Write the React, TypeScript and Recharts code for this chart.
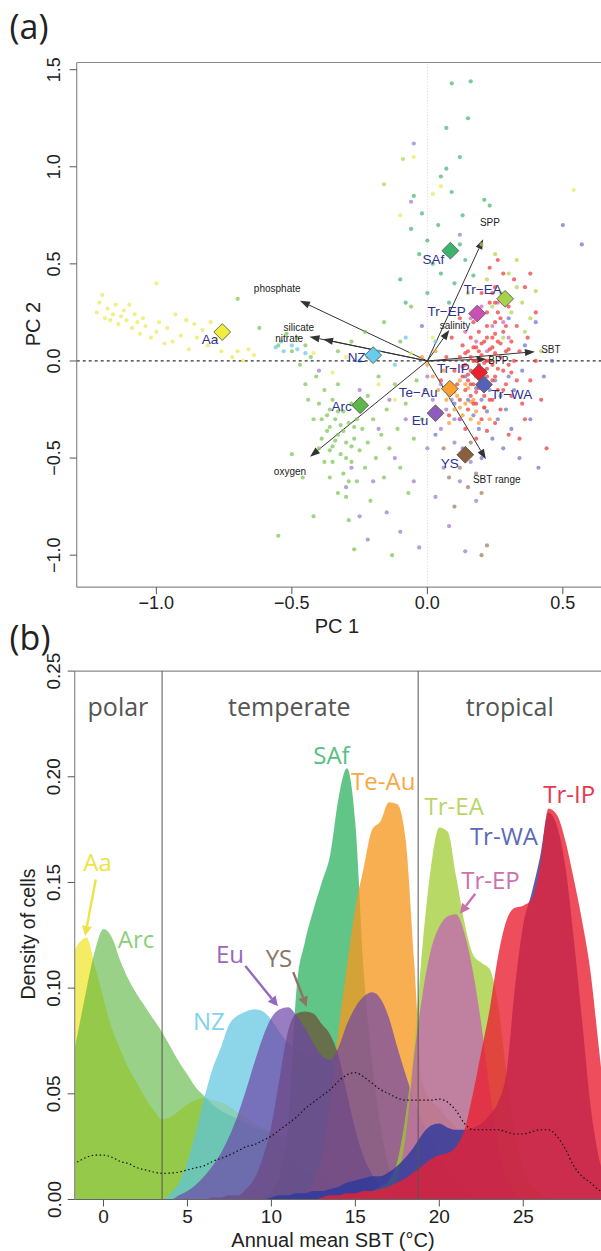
import React from "react";
import {
  ScatterChart,
  ComposedChart,
  Scatter,
  Area,
  Line,
  XAxis,
  YAxis,
  ReferenceLine,
  ReferenceDot,
} from "recharts";

const SANS = "'Liberation Sans', Arial, Helvetica, sans-serif";
const MYRIAD = "'Open Sans', 'Noto Sans', sans-serif";

// ---------------- (a) PCA biplot ----------------
const pcXTicks = [-1, -0.5, 0, 0.5];
const pcYTicks = [-1, -0.5, 0, 0.5, 1, 1.5];

// cells, PC1 / PC2 scores per region
const aaPts = [
  [-1.22, 0.25], [-1.21, 0.3], [-1.2, 0.34], [-1.19, 0.22], [-1.18, 0.27], [-1.17, 0.21], [-1.16, 0.24],
  [-1.15, 0.29], [-1.14, 0.19], [-1.13, 0.23], [-1.12, 0.26], [-1.11, 0.21], [-1.1, 0.29], [-1.09, 0.17],
  [-1.08, 0.24], [-1.07, 0.2], [-1.06, 0.14], [-1.05, 0.22], [-1.04, 0.18], [-1.02, 0.12], [-1.0, 0.4],
  [-1.0, 0.15], [-0.99, 0.2], [-0.97, 0.09], [-0.96, 0.17], [-0.94, 0.1], [-0.93, 0.24], [-0.91, 0.13],
  [-0.89, 0.21], [-0.88, 0.06], [-0.86, 0.19], [-0.85, 0.12], [-0.83, 0.16], [-0.81, 0.08], [-0.8, 0.2],
  [-0.78, 0.11], [-0.76, 0.05], [-0.72, 0.02], [-0.7, 0.05], [-0.68, 0.0], [-0.66, 0.06], [-0.64, 0.03],
  [-0.1, 0.75], [-0.05, 1.05], [0.02, 0.86], [0.05, 0.9], [-0.3, 0.02], [-0.35, -0.06], [-0.42, 0.04],
  [-0.18, -0.12], [-0.12, -0.2], [0.08, -0.18], [0.02, 0.12], [-0.06, 0.04], [0.54, 0.88],
];
const arcPts = [
  [-0.55, 0.08], [-0.52, 0.14], [-0.5, 0.05], [-0.48, 0.12], [-0.47, -0.02], [-0.45, 0.08], [-0.45, -0.12],
  [-0.44, -0.2], [-0.43, 0.02], [-0.42, -0.3], [-0.41, -0.08], [-0.4, -0.22], [-0.39, -0.4], [-0.38, -0.15],
  [-0.38, -0.52], [-0.37, -0.28], [-0.36, -0.34], [-0.36, -0.6], [-0.35, -0.2], [-0.35, -0.44], [-0.34, -0.3],
  [-0.33, -0.38], [-0.33, -0.12], [-0.32, -0.48], [-0.31, -0.26], [-0.31, -0.36], [-0.3, -0.42], [-0.3, -0.7],
  [-0.29, -0.32], [-0.29, -0.82], [-0.28, -0.22], [-0.28, -0.52], [-0.27, -0.4], [-0.26, -0.3], [-0.26, -0.62],
  [-0.25, -0.46], [-0.24, -0.35], [-0.23, -0.55], [-0.22, -0.18], [-0.22, -0.42], [-0.21, -0.72], [-0.2, -0.3],
  [-0.19, -0.5], [-0.18, -0.08], [-0.17, -0.38], [-0.16, -0.6], [-0.15, -0.25], [-0.14, -0.45], [-0.13, -1.0],
  [-0.12, -0.12], [-0.11, -0.35], [-0.1, -0.55], [-0.08, -0.22], [-0.07, -0.68], [-0.05, -0.4], [-0.04, -0.1],
  [-0.02, -0.3], [-0.55, -0.9], [-0.5, -0.48], [-0.46, -0.6], [-0.42, -0.8], [-0.27, -0.97], [-0.62, 0.17],
  [-0.7, 0.32], [-0.33, 0.05], [-0.28, 0.1], [-0.23, 0.15], [-0.16, 0.2], [-0.2, 0.06], [-0.1, 0.1], [-0.06, 0.28],
  [-0.37, -0.36], [-0.34, -0.41], [-0.32, -0.33], [-0.36, -0.46], [-0.3, -0.5], [-0.33, -0.26], [-0.39, -0.3],
  [-0.35, -0.52], [-0.28, -0.44], [-0.31, -0.58], [-0.4, -0.45], [-0.27, -0.34], [-0.36, -0.25], [-0.29, -0.62],
  [-0.33, -0.68],
];
const nzPts = [
  [-0.56, 0.07], [-0.54, 0.1], [-0.53, 0.05], [-0.5, 0.08], [-0.48, 0.06], [-0.45, 0.04], [-0.22, 0.02],
  [-0.18, 0.05], [-0.25, 0.0], [-0.08, 0.12], [0.03, 0.1], [-0.12, -0.02],
];
const safPts = [
  [0.09, 1.43], [0.16, 1.44], [0.15, 1.25], [0.07, 1.2], [0.07, 0.99], [0.05, 0.95], [0.09, 0.87], [-0.02, 0.76],
  [0.21, 0.83], [0.23, 0.8], [-0.06, 0.68], [0.0, 0.62], [0.04, 0.7], [0.12, 0.6], [0.14, 0.52], [0.05, 0.45],
  [0.1, 0.4], [0.02, 0.5], [-0.03, 0.55], [0.17, 0.44], [0.0, 0.35], [0.08, 0.3], [-0.1, 0.42], [-0.08, 0.3],
  [0.13, 0.75], [-0.05, 0.85], [0.12, 1.05],
];
const treaPts = [
  [-0.09, 1.04], [-0.16, 0.91], [0.25, 0.55], [0.3, 0.45], [0.33, 0.38], [0.27, 0.35], [0.35, 0.3], [0.22, 0.42],
  [0.38, 0.22], [0.31, 0.25], [0.24, 0.28], [0.36, 0.15], [0.28, 0.12], [0.4, 0.36], [0.2, 0.6], [0.33, 0.52],
  [0.15, 0.35], [0.42, 0.05],
];
const euPts = [
  [-0.3, -0.65], [-0.28, -0.55], [-0.25, -0.8], [-0.22, -0.92], [-0.2, -0.62], [-0.18, -0.35], [-0.15, -0.78],
  [-0.12, -0.5], [-0.1, -0.88], [-0.08, -0.3], [-0.05, -0.62], [-0.03, -0.96], [0.0, -0.45], [0.02, -0.2],
  [0.03, -0.7], [0.05, -0.35], [0.06, -0.55], [0.08, -0.85], [0.1, -0.42], [0.12, -0.62], [0.14, -0.98],
  [0.16, -0.52], [0.18, -0.72], [0.05, -0.12], [-0.01, -0.15], [0.07, -0.25], [0.1, -0.3], [-0.14, -0.2],
  [-0.25, -0.15], [-0.4, -0.05], [-0.05, 1.12], [-0.06, 0.82], [0.12, 0.65], [0.0, -0.08], [0.09, -0.2],
  [0.13, -0.45], [0.04, -0.28],
];
const ysPts = [
  [0.08, -0.6], [0.12, -0.55], [0.15, -0.65], [0.18, -0.58], [0.2, -0.68], [0.1, -0.75], [0.22, -0.95],
  [0.2, -1.0], [0.06, -0.45], [0.16, -0.42],
];
const teauPts = [
  [0.0, -0.02], [0.02, -0.08], [0.04, -0.15], [0.06, -0.05], [0.07, -0.2], [0.09, -0.12], [0.1, -0.25],
  [0.11, -0.18], [0.12, -0.1], [0.13, -0.28], [0.14, -0.22], [0.15, -0.14], [0.16, -0.3], [0.17, -0.2],
  [0.18, -0.26], [0.19, -0.32], [0.08, -0.32], [0.05, -0.26], [0.21, -0.24], [0.23, -0.3], [-0.02, 0.02],
  [0.03, 0.05], [0.1, -0.16], [0.12, -0.24], [0.14, -0.12], [0.16, -0.21],
];
const trwaPts = [
  [0.08, -0.12], [0.1, -0.22], [0.12, -0.3], [0.14, -0.08], [0.15, -0.2], [0.17, -0.28], [0.18, -0.14],
  [0.19, -0.35], [0.2, -0.2], [0.21, -0.05], [0.22, -0.26], [0.23, -0.15], [0.24, -0.4], [0.25, -0.1],
  [0.26, -0.3], [0.27, -0.18], [0.28, -0.45], [0.29, -0.25], [0.3, -0.08], [0.31, -0.35], [0.32, -0.15],
  [0.34, -0.5], [0.35, -0.05], [0.36, 0.08], [0.38, -0.3], [0.4, 0.2], [0.41, -0.55], [0.43, -0.08],
  [0.46, 0.0], [0.5, 0.7], [0.57, 0.6], [0.03, -0.38], [0.2, -0.5], [-0.02, 0.18], [0.3, 0.22],
];
const trepPts = [
  [0.16, 0.22], [0.2, 0.28], [0.24, 0.18], [0.18, 0.1], [0.26, 0.3], [0.14, 0.15], [0.22, 0.05], [0.28, 0.2],
  [0.12, -0.3], [0.3, 0.12],
];
const tripPts = [
  [0.1, -0.05], [0.11, -0.12], [0.12, 0.02], [0.12, -0.2], [0.13, -0.08], [0.13, 0.08], [0.14, -0.15],
  [0.14, -0.02], [0.15, 0.05], [0.15, -0.1], [0.15, -0.25], [0.16, 0.12], [0.16, -0.05], [0.16, -0.18],
  [0.17, 0.0], [0.17, -0.12], [0.17, 0.2], [0.18, -0.08], [0.18, 0.07], [0.18, -0.22], [0.19, -0.02],
  [0.19, 0.15], [0.19, -0.14], [0.2, 0.03], [0.2, -0.06], [0.2, 0.25], [0.2, -0.3], [0.21, -0.1], [0.21, 0.1],
  [0.21, -0.18], [0.22, 0.0], [0.22, 0.18], [0.22, -0.04], [0.23, -0.12], [0.23, 0.06], [0.23, 0.3],
  [0.24, -0.2], [0.24, 0.12], [0.24, -0.02], [0.25, 0.2], [0.25, -0.08], [0.25, 0.04], [0.26, -0.15],
  [0.26, 0.1], [0.27, 0.02], [0.27, -0.25], [0.27, 0.22], [0.28, -0.05], [0.28, 0.15], [0.29, -0.12],
  [0.29, 0.05], [0.3, 0.28], [0.3, -0.02], [0.31, 0.1], [0.31, -0.18], [0.32, 0.0], [0.33, -0.1], [0.33, 0.18],
  [0.34, 0.05], [0.35, -0.22], [0.05, -0.1], [0.07, 0.02], [0.08, -0.28], [0.09, 0.12], [0.14, -0.35],
  [0.18, -0.4], [0.22, -0.36], [0.25, -0.32], [0.3, -0.38], [0.36, -0.3], [0.38, -0.1], [0.4, 0.0],
  [0.37, 0.12], [0.4, 0.25], [0.36, 0.38], [0.28, 0.45], [0.25, 0.38], [0.2, 0.35], [0.23, 0.48],
  [0.32, 0.42], [0.42, -0.2], [0.44, -0.45], [0.26, 0.52], [0.34, -0.4], [0.12, 0.22], [0.38, 0.45],
  [0.13, -0.03], [0.14, 0.04], [0.15, -0.07], [0.16, 0.02], [0.16, -0.12], [0.17, 0.07], [0.17, -0.22],
  [0.18, 0.0], [0.18, -0.16], [0.19, 0.05], [0.19, -0.09], [0.2, -0.13], [0.2, 0.09], [0.21, -0.01],
  [0.21, -0.24], [0.22, 0.12], [0.22, -0.08], [0.23, 0.0], [0.23, -0.2], [0.24, 0.07], [0.24, -0.1],
  [0.25, 0.14], [0.26, -0.04], [0.26, 0.25], [0.27, 0.09], [0.28, -0.15], [0.28, 0.3], [0.29, 0.18],
  [0.3, 0.06], [0.31, -0.06], [0.24, 0.35], [0.22, 0.25], [0.25, 0.3],
];

// region centroids
const regionNames = ["Aa", "NZ", "SAf", "Tr−EA", "Tr−EP", "Tr−IP", "Tr−WA", "Te−Au", "Eu", "Arc", "YS"];
const centroidX = [-0.757, -0.2, 0.085, 0.287, 0.184, 0.191, 0.209, 0.083, 0.03, -0.248, 0.14];
const centroidY = [0.149, 0.03, 0.568, 0.32, 0.244, -0.059, -0.122, -0.143, -0.269, -0.228, -0.483];
const centroidLabelX = [-0.802, -0.261, 0.022, 0.204, 0.071, 0.096, 0.311, -0.034, -0.027, -0.316, 0.083];
const centroidLabelY = [0.108, 0.019, 0.524, 0.369, 0.257, -0.038, -0.175, -0.161, -0.304, -0.235, -0.53];

// environmental loadings
const envNames = ["phosphate", "silicate", "nitrate", "oxygen", "SPP", "salinity", "SBT", "BPP", "SBT range"];
const envTipX = [-0.47, -0.435, -0.385, -0.433, 0.206, 0.081, 0.397, 0.219, 0.216];
const envTipY = [0.31, 0.125, 0.112, -0.493, 0.627, 0.16, 0.048, 0.009, -0.506];
const envLabelX = [-0.554, -0.474, -0.51, -0.507, 0.231, 0.102, 0.456, 0.262, 0.256];
const envLabelY = [0.374, 0.172, 0.118, -0.57, 0.712, 0.182, 0.057, 0.0, -0.609];

// ---------------- (b) density of cells ----------------
const sbtGrid = [
  -2, -1.5, -1, -0.5, 0, 0.5, 1, 1.5, 2, 2.5, 3, 3.5, 4, 4.5, 5, 5.5, 6, 6.5, 7, 7.5, 8, 8.5, 9, 9.5, 10, 10.5,
  11, 11.5, 12, 12.5, 13, 13.5, 14, 14.5, 15, 15.5, 16, 16.5, 17, 17.5, 18, 18.5, 19, 19.5, 20, 20.5, 21, 21.5,
  22, 22.5, 23, 23.5, 24, 24.5, 25, 25.5, 26, 26.5, 27, 27.5, 28, 28.5, 29, 29.5, 30,
];
const sbtTicks = [0, 5, 10, 15, 20, 25];
const densTicks = [0, 0.05, 0.1, 0.15, 0.2, 0.25];

const densAa = [
  0.113, 0.121, 0.124, 0.11, 0.095, 0.081, 0.071, 0.062, 0.055, 0.048,
  0.042, 0.038, 0.039, 0.042, 0.045, 0.047, 0.048, 0.047, 0.046, 0.044,
  0.041, 0.039, 0.036, 0.034, 0.032, 0.03, 0.029, 0.026, 0.022, 0.019,
  0.015, 0.012, 0.008, 0.005, 0.003, 0.001, 0, 0, 0, 0,
  0, 0, 0, 0, 0, 0, 0, 0, 0, 0,
  0, 0, 0, 0, 0, 0, 0, 0, 0, 0,
  0, 0, 0, 0, 0,
];
const densArc = [
  0.06, 0.08, 0.1, 0.118, 0.128, 0.124, 0.113, 0.104, 0.097, 0.091,
  0.085, 0.079, 0.072, 0.065, 0.059, 0.053, 0.049, 0.045, 0.042, 0.04,
  0.038, 0.036, 0.034, 0.033, 0.031, 0.027, 0.022, 0.018, 0.014, 0.011,
  0.008, 0.005, 0.003, 0.001, 0, 0, 0, 0, 0, 0,
  0, 0, 0, 0, 0, 0, 0, 0, 0, 0,
  0, 0, 0, 0, 0, 0, 0, 0, 0, 0,
  0, 0, 0, 0, 0,
];
const densNZ = [
  0, 0, 0, 0, 0, 0, 0, 0, 0, 0,
  0, 0, 0.003, 0.008, 0.018, 0.032, 0.048, 0.062, 0.072, 0.083,
  0.087, 0.089, 0.09, 0.089, 0.085, 0.079, 0.074, 0.071, 0.069, 0.068,
  0.067, 0.066, 0.058, 0.045, 0.03, 0.018, 0.01, 0.005, 0.002, 0,
  0, 0, 0, 0, 0, 0, 0, 0, 0, 0,
  0, 0, 0, 0, 0, 0, 0, 0, 0, 0,
  0, 0, 0, 0, 0,
];
const densEu = [
  0, 0, 0, 0, 0, 0, 0, 0, 0, 0,
  0, 0, 0, 0.002, 0.004, 0.007, 0.011, 0.016, 0.022, 0.03,
  0.04, 0.052, 0.065, 0.077, 0.086, 0.09, 0.091, 0.087, 0.081, 0.074,
  0.068, 0.066, 0.072, 0.083, 0.091, 0.096, 0.098, 0.095, 0.086, 0.072,
  0.059, 0.047, 0.037, 0.028, 0.02, 0.013, 0.008, 0.004, 0.002, 0.001,
  0, 0, 0, 0, 0, 0, 0, 0, 0, 0,
  0, 0, 0, 0, 0,
];
const densYS = [
  0, 0, 0, 0, 0, 0, 0, 0, 0, 0,
  0, 0, 0, 0, 0, 0, 0, 0.001, 0.001, 0.002,
  0.002, 0.005, 0.01, 0.02, 0.035, 0.058, 0.08, 0.088, 0.089, 0.088,
  0.083, 0.078, 0.068, 0.05, 0.033, 0.02, 0.012, 0.006, 0.003, 0.001,
  0, 0, 0, 0, 0, 0, 0, 0, 0, 0,
  0, 0, 0, 0, 0, 0, 0, 0, 0, 0,
  0, 0, 0, 0, 0,
];
const densSAf = [
  0, 0, 0, 0, 0, 0, 0, 0, 0, 0,
  0, 0, 0, 0, 0, 0, 0, 0, 0, 0,
  0, 0, 0, 0.001, 0.004, 0.012, 0.035, 0.1, 0.122, 0.137,
  0.15, 0.163, 0.19, 0.204, 0.178, 0.108, 0.065, 0.035, 0.015, 0.005,
  0.002, 0, 0, 0, 0, 0, 0, 0, 0, 0,
  0, 0, 0, 0, 0, 0, 0, 0, 0, 0,
  0, 0, 0, 0, 0,
];
const densTeAu = [
  0, 0, 0, 0, 0, 0, 0, 0, 0, 0,
  0, 0, 0, 0, 0, 0, 0, 0, 0, 0,
  0, 0, 0, 0, 0, 0, 0, 0, 0.003, 0.008,
  0.02, 0.045, 0.08, 0.11, 0.138, 0.157, 0.175, 0.179, 0.188, 0.187,
  0.17, 0.113, 0.055, 0.047, 0.043, 0.038, 0.034, 0.024, 0.013, 0.006,
  0.002, 0, 0, 0, 0, 0, 0, 0, 0, 0,
  0, 0, 0, 0, 0,
];
const densTrEA = [
  0, 0, 0, 0, 0, 0, 0, 0, 0, 0,
  0, 0, 0, 0, 0, 0, 0, 0, 0, 0,
  0, 0, 0, 0, 0, 0, 0, 0, 0, 0,
  0, 0, 0, 0, 0.001, 0.002, 0.004, 0.006, 0.009, 0.018,
  0.04, 0.072, 0.12, 0.157, 0.176, 0.174, 0.153, 0.131, 0.116, 0.112,
  0.109, 0.092, 0.06, 0.032, 0.015, 0.007, 0.003, 0.001, 0, 0,
  0, 0, 0, 0, 0,
];
const densTrEP = [
  0, 0, 0, 0, 0, 0, 0, 0, 0, 0,
  0, 0, 0, 0, 0, 0, 0, 0, 0, 0,
  0, 0, 0, 0, 0, 0, 0, 0, 0, 0,
  0, 0, 0, 0, 0, 0, 0, 0, 0.003, 0.01,
  0.03, 0.068, 0.097, 0.118, 0.129, 0.134, 0.135, 0.126, 0.108, 0.083,
  0.052, 0.026, 0.01, 0.003, 0, 0, 0, 0, 0, 0,
  0, 0, 0, 0, 0,
];
const densTrWA = [
  0, 0, 0, 0, 0, 0, 0, 0, 0, 0,
  0, 0, 0, 0, 0, 0, 0, 0, 0, 0,
  0, 0, 0, 0, 0.001, 0.002, 0.002, 0.003, 0.003, 0.004,
  0.004, 0.005, 0.006, 0.008, 0.009, 0.01, 0.011, 0.011, 0.013, 0.016,
  0.02, 0.025, 0.031, 0.035, 0.036, 0.034, 0.033, 0.033, 0.034, 0.036,
  0.04, 0.046, 0.06, 0.1, 0.13, 0.145, 0.162, 0.183, 0.177, 0.158,
  0.124, 0.085, 0.045, 0.02, 0.008,
];
const densTrIP = [
  0, 0, 0, 0, 0, 0, 0, 0, 0, 0,
  0, 0, 0, 0, 0, 0, 0, 0, 0, 0,
  0, 0, 0, 0, 0, 0, 0, 0, 0, 0,
  0.001, 0.002, 0.002, 0.003, 0.003, 0.004, 0.004, 0.005, 0.006, 0.008,
  0.01, 0.013, 0.016, 0.019, 0.021, 0.022, 0.025, 0.033, 0.05, 0.07,
  0.09, 0.115, 0.132, 0.138, 0.139, 0.142, 0.158, 0.185, 0.182, 0.17,
  0.152, 0.132, 0.108, 0.072, 0.035,
];
const densAll = [
  0.016, 0.018, 0.02, 0.021, 0.021, 0.02, 0.018, 0.017, 0.015, 0.014,
  0.013, 0.0124, 0.0125, 0.013, 0.014, 0.015, 0.016, 0.018, 0.0195, 0.021,
  0.023, 0.025, 0.026, 0.028, 0.03, 0.033, 0.036, 0.039, 0.043, 0.046,
  0.049, 0.052, 0.056, 0.059, 0.06, 0.058, 0.055, 0.052, 0.05, 0.048,
  0.047, 0.047, 0.047, 0.047, 0.0475, 0.046, 0.042, 0.036, 0.033, 0.033,
  0.033, 0.033, 0.032, 0.031, 0.031, 0.032, 0.033, 0.033, 0.03, 0.024,
  0.016, 0.011, 0.008, 0.0045, 0.003,
];

const zoneNames = ["polar", "temperate", "tropical"];
const zoneCentres = [0.86, 11.07, 24.2];
const zoneBreaks = [3.49, 18.74];

const densLabelNames = ["Aa", "Arc", "NZ", "Eu", "YS", "SAf", "Te-Au", "Tr-EA", "Tr-WA", "Tr-EP", "Tr-IP"];
const densLabelT = [-0.35, 1.94, 6.28, 7.53, 10.45, 13.58, 16.66, 20.89, 23.85, 23.05, 27.74];
const densLabelD = [0.16, 0.1237, 0.0847, 0.1162, 0.1147, 0.2104, 0.1984, 0.1862, 0.1723, 0.1514, 0.1923];

const pointerNames = ["Aa", "Eu", "YS", "Tr-EP"];
const pointerFromT = [-0.46, 8.45, 11.3, 22.14];
const pointerFromD = [0.1514, 0.1105, 0.1076, 0.1447];
const pointerToT = [-1.1, 10.39, 12.1, 21.23];
const pointerToD = [0.1247, 0.0914, 0.0912, 0.1352];

// ---------------- styles ----------------
const dotColor: Record<string, string> = {
  Aa: "#ede95a", Arc: "#7cc653", NZ: "#66c8e8", SAf: "#46b574", TrEA: "#b2d24c", Eu: "#9d7ac8",
  YS: "#a07a5e", TeAu: "#f59a2e", TrWA: "#6a76c8", TrEP: "#d462b4", TrIP: "#ec3a3a",
};
const markerColor: Record<string, string> = {
  "Aa": "#f2ec3c", "Arc": "#5cb848", "NZ": "#67cdea", "SAf": "#3cb56c", "Te−Au": "#f7a131",
  "Tr−EA": "#a8d048", "Tr−EP": "#cc4fb5", "Tr−WA": "#5560b8", "Tr−IP": "#e82030", "Eu": "#8e5cbc", "YS": "#8b5e3c",
};
const densLabelColor: Record<string, string> = {
  "Aa": "#ece346", "Arc": "#8ccf7a", "NZ": "#82d4ec", "Eu": "#9567c0", "YS": "#8c7466", "SAf": "#55c083",
  "Te-Au": "#f8a843", "Tr-EA": "#b8d666", "Tr-WA": "#5b6ab8", "Tr-EP": "#cc70b0", "Tr-IP": "#e5394f",
};

const toPts = (a: number[][]) => a.map(([x, y]) => ({ x, y }));
const fmt1 = (v: number) => (v < 0 ? "−" : "") + Math.abs(v).toFixed(1);

const dotShape = (color: string) => (p: any) => (
  <circle cx={p.cx} cy={p.cy} r={2.1} fill={color} fillOpacity={0.72} />
);

const diamondShape = (p: any) => {
  const r = 8.4;
  const c = markerColor[p.payload.name];
  return (
    <polygon
      points={`${p.cx},${p.cy - r} ${p.cx + r},${p.cy} ${p.cx},${p.cy + r} ${p.cx - r},${p.cy}`}
      fill={c}
      stroke="#5a5a5a"
      strokeWidth={0.9}
    />
  );
};

const textShape = (label: string, size: number, color: string, family: string) => (p: any) => (
  <text x={p.cx} y={p.cy} textAnchor="middle" dominantBaseline="central" fontSize={size} fill={color} fontFamily={family}>
    {label}
  </text>
);

const arrowShape = (color: string, w: number, len: number, half: number) => (p: any) => {
  const { x1, y1, x2, y2 } = p;
  if ([x1, y1, x2, y2].some((v) => typeof v !== "number" || isNaN(v))) return <g />;
  const a = Math.atan2(y2 - y1, x2 - x1);
  const bx = x2 - len * Math.cos(a);
  const by = y2 - len * Math.sin(a);
  const px = -Math.sin(a) * half;
  const py = Math.cos(a) * half;
  return (
    <g>
      <line x1={x1} y1={y1} x2={bx} y2={by} stroke={color} strokeWidth={w} />
      <polygon points={`${x2},${y2} ${bx + px},${by + py} ${bx - px},${by - py}`} fill={color} />
    </g>
  );
};

const Title = ({ x, y, size, rotate, family, children }: any) => (
  <div
    style={{
      position: "absolute",
      left: x,
      top: y,
      transform: `translate(-50%, -50%)${rotate ? " rotate(-90deg)" : ""}`,
      fontSize: size,
      fontFamily: family || SANS,
      color: "#222",
      whiteSpace: "nowrap",
      lineHeight: 1,
    }}
  >
    {children}
  </div>
);

function PcaPanel() {
  const centroids = regionNames.map((name, i) => ({ name, x: centroidX[i], y: centroidY[i] }));
  const series: [number[][], string][] = [
    [arcPts, dotColor.Arc], [aaPts, dotColor.Aa], [nzPts, dotColor.NZ], [safPts, dotColor.SAf],
    [treaPts, dotColor.TrEA], [euPts, dotColor.Eu], [ysPts, dotColor.YS], [teauPts, dotColor.TeAu],
    [trwaPts, dotColor.TrWA], [trepPts, dotColor.TrEP], [tripPts, dotColor.TrIP],
  ];
  return (
    <div style={{ position: "absolute", left: 0, top: 0 }}>
      <ScatterChart width={620} height={630} margin={{ top: 62.5, right: 16.5, bottom: 2.8, left: 16.7 }}>
        <XAxis
          type="number"
          dataKey="x"
          domain={[-1.294, 0.65]}
          ticks={pcXTicks}
          interval={0}
          allowDataOverflow
          height={40}
          tickSize={7}
          axisLine={{ stroke: "#8a8a8a", strokeWidth: 1.2 }}
          tickLine={{ stroke: "#555" }}
          tick={(p: any) => (
            <text x={p.x} y={p.y + 13} textAnchor="middle" fontSize={18} fill="#222" fontFamily={SANS}>
              {fmt1(p.payload.value)}
            </text>
          )}
        />
        <YAxis
          type="number"
          dataKey="y"
          domain={[-1.165, 1.537]}
          ticks={pcYTicks}
          interval={0}
          allowDataOverflow
          width={60}
          tickSize={7}
          axisLine={{ stroke: "#8a8a8a", strokeWidth: 1.2 }}
          tickLine={{ stroke: "#555" }}
          tick={(p: any) => (
            <text
              x={p.x - 7.5}
              y={p.y}
              transform={`rotate(-90, ${p.x - 7.5}, ${p.y})`}
              textAnchor="middle"
              fontSize={18}
              fill="#222"
              fontFamily={SANS}
            >
              {fmt1(p.payload.value)}
            </text>
          )}
        />
        <ReferenceLine y={1.537} stroke="#8a8a8a" strokeWidth={1.2} ifOverflow="visible" />
        <ReferenceLine x={0} stroke="#d8d8d8" strokeDasharray="1 2" />
        {series.map(([pts, c], i) => (
          <Scatter key={i} data={toPts(pts)} shape={dotShape(c)} isAnimationActive={false} />
        ))}
        <ReferenceLine y={0} stroke="#333" strokeWidth={1.3} strokeDasharray="3 3" />
        {envNames.map((n, i) => (
          <ReferenceLine
            key={n}
            segment={[{ x: 0, y: 0 }, { x: envTipX[i], y: envTipY[i] }]}
            shape={arrowShape("#333", 1, 10, 3.6)}
            ifOverflow="visible"
          />
        ))}
        {envNames.map((n, i) => (
          <ReferenceDot key={"l" + n} x={envLabelX[i]} y={envLabelY[i]} r={1} shape={textShape(n, 10, "#222", SANS)} />
        ))}
        <Scatter data={centroids} shape={diamondShape} isAnimationActive={false} />
        {regionNames.map((n, i) => (
          <ReferenceDot
            key={"c" + n}
            x={centroidLabelX[i]}
            y={centroidLabelY[i]}
            r={1}
            shape={textShape(n, 13.5, "#2e3190", SANS)}
          />
        ))}
      </ScatterChart>
    </div>
  );
}

function DensityPanel() {
  const rows = sbtGrid.map((t, i) => ({
    t,
    aa: densAa[i], arc: densArc[i], nz: densNZ[i], saf: densSAf[i], teau: densTeAu[i], ys: densYS[i],
    eu: densEu[i], trea: densTrEA[i], trep: densTrEP[i], trwa: densTrWA[i], trip: densTrIP[i], all: densAll[i],
  }));
  const areas: [string, string, number][] = [
    ["aa", "#f0e52e", 0.75], ["arc", "#55b33a", 0.6], ["nz", "#5cc5e1", 0.7], ["saf", "#26ae5a", 0.72],
    ["teau", "#f69820", 0.78], ["ys", "#6b4a32", 0.7], ["eu", "#6e46a8", 0.7], ["trea", "#a0cc33", 0.75],
    ["trep", "#c35ab9", 0.7], ["trwa", "#2a389c", 0.8], ["trip", "#ea2033", 0.8],
  ];
  return (
    <div style={{ position: "absolute", left: 0, top: 640 }}>
      <ComposedChart width={620} height={611} data={rows} margin={{ top: 31.1, right: 12.8, bottom: 11.5, left: 14.7 }}>
        <XAxis
          type="number"
          dataKey="t"
          domain={[-1.715, 30]}
          ticks={sbtTicks}
          interval={0}
          allowDataOverflow
          height={40}
          tickSize={7}
          axisLine={{ stroke: "#666", strokeWidth: 1.2 }}
          tickLine={{ stroke: "#555" }}
          tick={(p: any) => (
            <text x={p.x} y={p.y + 14} textAnchor="middle" fontSize={19} fill="#222" fontFamily={SANS}>
              {p.payload.value}
            </text>
          )}
        />
        <YAxis
          type="number"
          domain={[0, 0.25]}
          ticks={densTicks}
          interval={0}
          allowDataOverflow
          width={60}
          tickSize={7}
          axisLine={{ stroke: "#8a8a8a", strokeWidth: 1.2 }}
          tickLine={{ stroke: "#555" }}
          tick={(p: any) => (
            <text
              x={p.x - 5.2}
              y={p.y}
              transform={`rotate(-90, ${p.x - 5.2}, ${p.y})`}
              textAnchor="middle"
              fontSize={19}
              fill="#222"
              fontFamily={SANS}
            >
              {p.payload.value.toFixed(2)}
            </text>
          )}
        />
        <ReferenceLine y={0.25} stroke="#8a8a8a" strokeWidth={1.2} ifOverflow="visible" />
        {areas.map(([k, c, o]) => (
          <Area
            key={k}
            type="monotone"
            dataKey={k}
            stroke="none"
            fill={c}
            fillOpacity={o}
            dot={false}
            activeDot={false}
            isAnimationActive={false}
          />
        ))}
        <Line
          type="monotone"
          dataKey="all"
          stroke="#111"
          strokeWidth={1.2}
          strokeDasharray="1.5 2.5"
          dot={false}
          activeDot={false}
          isAnimationActive={false}
        />
        {zoneBreaks.map((b) => (
          <ReferenceLine key={b} x={b} stroke="#555" strokeWidth={1} />
        ))}
        {zoneNames.map((n, i) => (
          <ReferenceDot key={n} x={zoneCentres[i]} y={0.2333} r={1} shape={textShape(n, 25, "#555", MYRIAD)} />
        ))}
        {densLabelNames.map((n, i) => (
          <ReferenceDot
            key={"d" + n}
            x={densLabelT[i]}
            y={densLabelD[i]}
            r={1}
            shape={textShape(n, 24, densLabelColor[n], MYRIAD)}
          />
        ))}
        {pointerNames.map((n, i) => (
          <ReferenceLine
            key={"p" + n}
            segment={[{ x: pointerFromT[i], y: pointerFromD[i] }, { x: pointerToT[i], y: pointerToD[i] }]}
            shape={arrowShape(densLabelColor[n], 2.4, 10, 5)}
            ifOverflow="visible"
          />
        ))}
      </ComposedChart>
    </div>
  );
}

export default function App() {
  return (
    <div
      style={{
        position: "absolute",
        left: 0,
        top: 0,
        width: 601,
        height: 1251,
        overflow: "hidden",
        background: "#fff",
      }}
    >
      <PcaPanel />
      <DensityPanel />
      <Title x={29} y={26} size={34} family={MYRIAD}>(a)</Title>
      <Title x={30} y={637} size={34} family={MYRIAD}>(b)</Title>
      <Title x={337} y={626} size={20}>PC 1</Title>
      <Title x={33} y={324} size={20} rotate>PC 2</Title>
      <Title x={29} y={934} size={19.5} rotate>Density of cells</Title>
      <Title x={333} y={1240} size={20}>Annual mean SBT (°C)</Title>
    </div>
  );
}
